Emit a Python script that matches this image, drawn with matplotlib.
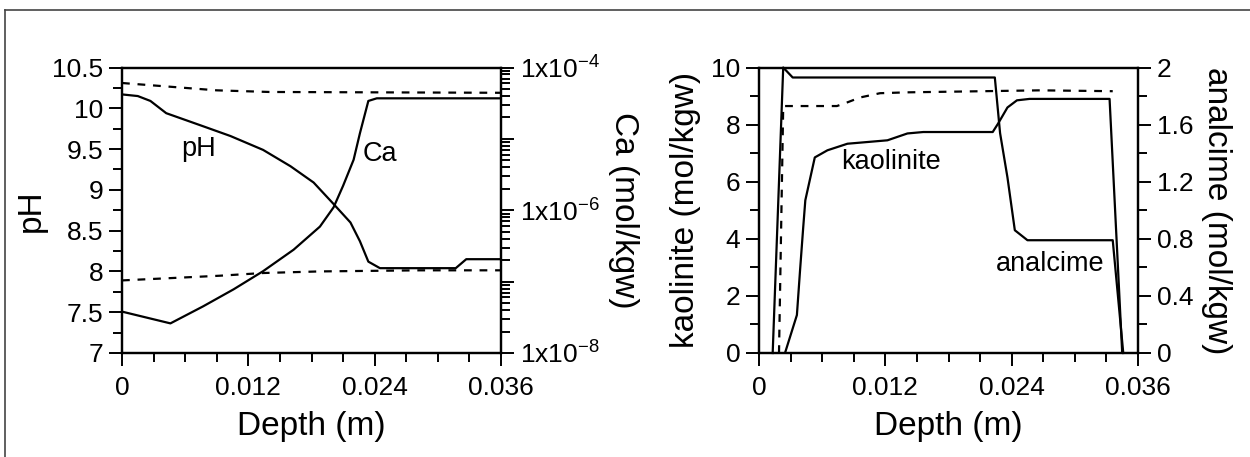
import math
import matplotlib
matplotlib.use("Agg")
import matplotlib.pyplot as plt
from matplotlib.ticker import MultipleLocator, FixedLocator, FuncFormatter, LogLocator, NullFormatter
from matplotlib.lines import Line2D

plt.rcParams['font.family'] = ['Liberation Sans', 'DejaVu Sans']
plt.rcParams['mathtext.fontset'] = 'custom'
plt.rcParams['mathtext.rm'] = 'Liberation Sans'
plt.rcParams['mathtext.it'] = 'Liberation Sans:italic'
plt.rcParams['mathtext.bf'] = 'Liberation Sans:bold'

# ---------------- data: left panel ----------------
depth_ph = [0, 0.0015, 0.0027, 0.0042, 0.0077, 0.0103, 0.0134, 0.016, 0.0182, 0.020,
            0.0217, 0.0226, 0.0234, 0.0245, 0.0317, 0.0327, 0.036]
ph = [10.17, 10.15, 10.09, 9.94, 9.78, 9.66, 9.49, 9.29, 9.09, 8.84,
      8.60, 8.37, 8.12, 8.04, 8.04, 8.15, 8.15]

depth_ph_init = [0, 0.004, 0.009, 0.014, 0.036]
ph_init = [10.31, 10.27, 10.22, 10.20, 10.19]

depth_ca = [0, 0.0046, 0.0077, 0.0106, 0.0134, 0.0163, 0.0188, 0.0201, 0.021,
            0.022, 0.0226, 0.0234, 0.0242, 0.036]
ca = [3.8e-8, 2.6e-8, 4.5e-8, 7.8e-8, 1.4e-7, 2.8e-7, 5.9e-7, 1.1e-6, 2.2e-6,
      5.1e-6, 1.2e-5, 3.4e-5, 3.7e-5, 3.7e-5]

depth_ca_init = [0, 0.0046, 0.0093, 0.0134, 0.0188, 0.0283, 0.036]
ca_init = [1.04e-7, 1.12e-7, 1.21e-7, 1.32e-7, 1.39e-7, 1.44e-7, 1.44e-7]

# ---------------- data: right panel ----------------
depth_kao = [0.00247, 0.0036, 0.0039, 0.0042, 0.0044, 0.0053, 0.0065, 0.0084,
             0.0122, 0.0141, 0.0156, 0.0222, 0.0227, 0.0236, 0.0245, 0.0257,
             0.0333, 0.0345]
kaolinite = [0, 1.33, 2.9, 4.4, 5.35, 6.85, 7.1, 7.33,
             7.45, 7.69, 7.74, 7.74, 8.03, 8.6, 8.85, 8.9,
             8.9, 0]

depth_kao_init = [0.0019, 0.0023, 0.0032, 0.0074, 0.0084, 0.0096, 0.0115,
                  0.0141, 0.0267, 0.0336]
kaolinite_init = [0, 8.65, 8.65, 8.65, 8.78, 8.95, 9.1, 9.13, 9.2, 9.17]

depth_ana = [0.0013, 0.0023, 0.0032, 0.0224, 0.0229, 0.0236, 0.0243, 0.0255,
             0.0336, 0.0346]
analcime = [0, 2.0, 1.93, 1.93, 1.54, 1.23, 0.86, 0.79, 0.79, 0]

x_ticks = [0, 0.012, 0.024, 0.036]
ph_ticks = [7, 7.5, 8, 8.5, 9, 9.5, 10, 10.5]
kao_ticks = [0, 2, 4, 6, 8, 10]
ana_ticks = [0, 0.4, 0.8, 1.2, 1.6, 2]

# ---------------- style ----------------
W, H = 1250, 457
TICK_FS = 19
LABEL_FS = 24
INLINE_FS = 19.5
LW = 1.6
DASH = (0, (3.5, 3.5))
MAJ_LEN, MIN_LEN = 9.5, 6.5
TW = 1.4

fig = plt.figure(figsize=(W / 100, H / 100), dpi=100)

def frac(x0, x1, ytop, ybot):
    return [x0 / W, 1 - ybot / H, (x1 - x0) / W, (ybot - ytop) / H]

def gfmt(v, pos):
    return '%g' % v

def style_axis(ax):
    for s in ax.spines.values():
        s.set_linewidth(1.6)
    ax.tick_params(which='major', direction='out', length=MAJ_LEN, width=TW,
                   labelsize=TICK_FS, pad=4)
    ax.tick_params(which='minor', direction='out', length=MIN_LEN, width=TW)
    ax.tick_params(axis='x', which='major', pad=7)

# ---- left panel ----
ax1 = fig.add_axes(frac(122, 501, 67.5, 353))
ax1.plot(depth_ph, ph, color='black', lw=LW)
ax1.plot(depth_ph_init, ph_init, color='black', lw=LW, linestyle=DASH)
ax1.set_xlim(0, 0.036)
ax1.set_ylim(7, 10.5)
ax1.xaxis.set_major_locator(FixedLocator(x_ticks))
ax1.xaxis.set_minor_locator(MultipleLocator(0.003))
ax1.xaxis.set_major_formatter(FuncFormatter(gfmt))
ax1.yaxis.set_major_locator(FixedLocator(ph_ticks))
ax1.yaxis.set_minor_locator(MultipleLocator(0.25))
ax1.yaxis.set_major_formatter(FuncFormatter(gfmt))
style_axis(ax1)
ax1.tick_params(right=False, which='both')

ax2 = ax1.twinx()
ax2.set_yscale('log')
ax2.plot(depth_ca, ca, color='black', lw=LW)
ax2.plot(depth_ca_init, ca_init, color='black', lw=LW, linestyle=DASH)
ax2.set_ylim(1e-8, 1e-4)
ax2.yaxis.set_major_locator(LogLocator(base=10, numticks=10))
ax2.yaxis.set_minor_locator(LogLocator(base=10, subs=range(2, 10), numticks=20))
ax2.yaxis.set_minor_formatter(NullFormatter())

def cafmt(v, pos):
    e = int(round(math.log10(v)))
    if e % 2 == 0:
        return r'1x10$^{\mathregular{%d}}$' % e
    return ''
ax2.yaxis.set_major_formatter(FuncFormatter(cafmt))
style_axis(ax2)

ax1.set_xlabel('Depth (m)', fontsize=LABEL_FS, va='center')
ax1.xaxis.set_label_coords(0.5, -0.258)
ax1.set_ylabel('pH', fontsize=LABEL_FS, rotation=90, va='center', ha='center')
ax1.yaxis.set_label_coords(-0.24, 0.5)
ax2.set_ylabel('Ca (mol/kgw)', fontsize=LABEL_FS, rotation=270, va='center', ha='center')
ax2.yaxis.set_label_coords(1.322, 0.5)

ax1.text(0.0073, 9.5, 'pH', fontsize=INLINE_FS, ha='center', va='center')
ax1.text(0.0245, 9.44, 'Ca', fontsize=INLINE_FS, ha='center', va='center')

# ---- right panel ----
ax3 = fig.add_axes(frac(759, 1138, 67.5, 353))
ax3.plot(depth_kao, kaolinite, color='black', lw=LW)
ax3.plot(depth_kao_init, kaolinite_init, color='black', lw=LW, linestyle=DASH)
ax3.set_xlim(0, 0.036)
ax3.set_ylim(0, 10)
ax3.xaxis.set_major_locator(FixedLocator(x_ticks))
ax3.xaxis.set_minor_locator(MultipleLocator(0.003))
ax3.xaxis.set_major_formatter(FuncFormatter(gfmt))
ax3.yaxis.set_major_locator(FixedLocator(kao_ticks))
ax3.yaxis.set_minor_locator(MultipleLocator(1))
ax3.yaxis.set_major_formatter(FuncFormatter(gfmt))
style_axis(ax3)
ax3.tick_params(right=False, which='both')

ax4 = ax3.twinx()
ax4.plot(depth_ana, analcime, color='black', lw=LW, clip_on=False)
ax4.set_ylim(0, 2)
ax4.yaxis.set_major_locator(FixedLocator(ana_ticks))
ax4.yaxis.set_minor_locator(MultipleLocator(0.2))
ax4.yaxis.set_major_formatter(FuncFormatter(gfmt))
style_axis(ax4)

ax3.set_xlabel('Depth (m)', fontsize=LABEL_FS, va='center')
ax3.xaxis.set_label_coords(0.5, -0.258)
ax3.set_ylabel('kaolinite (mol/kgw)', fontsize=LABEL_FS, rotation=90, va='center', ha='center')
ax3.yaxis.set_label_coords(-0.195, 0.5)
ax4.set_ylabel('analcime (mol/kgw)', fontsize=LABEL_FS, rotation=270, va='center', ha='center')
ax4.yaxis.set_label_coords(1.206, 0.5)

ax3.text(0.0125, 6.7, 'kaolinite', fontsize=INLINE_FS, ha='center', va='center')
ax4.text(0.0277, 0.62, 'analcime', fontsize=INLINE_FS, ha='center', va='center')

# ---- outer frame (top and left edge visible) ----
fig.add_artist(Line2D([5 / W, 5 / W], [0, 1 - 10 / H], transform=fig.transFigure,
                      color='#444444', lw=1.2))
fig.add_artist(Line2D([5 / W, 1], [1 - 10 / H, 1 - 10 / H], transform=fig.transFigure,
                      color='#444444', lw=1.2))

fig.savefig('out.png', dpi=100)
